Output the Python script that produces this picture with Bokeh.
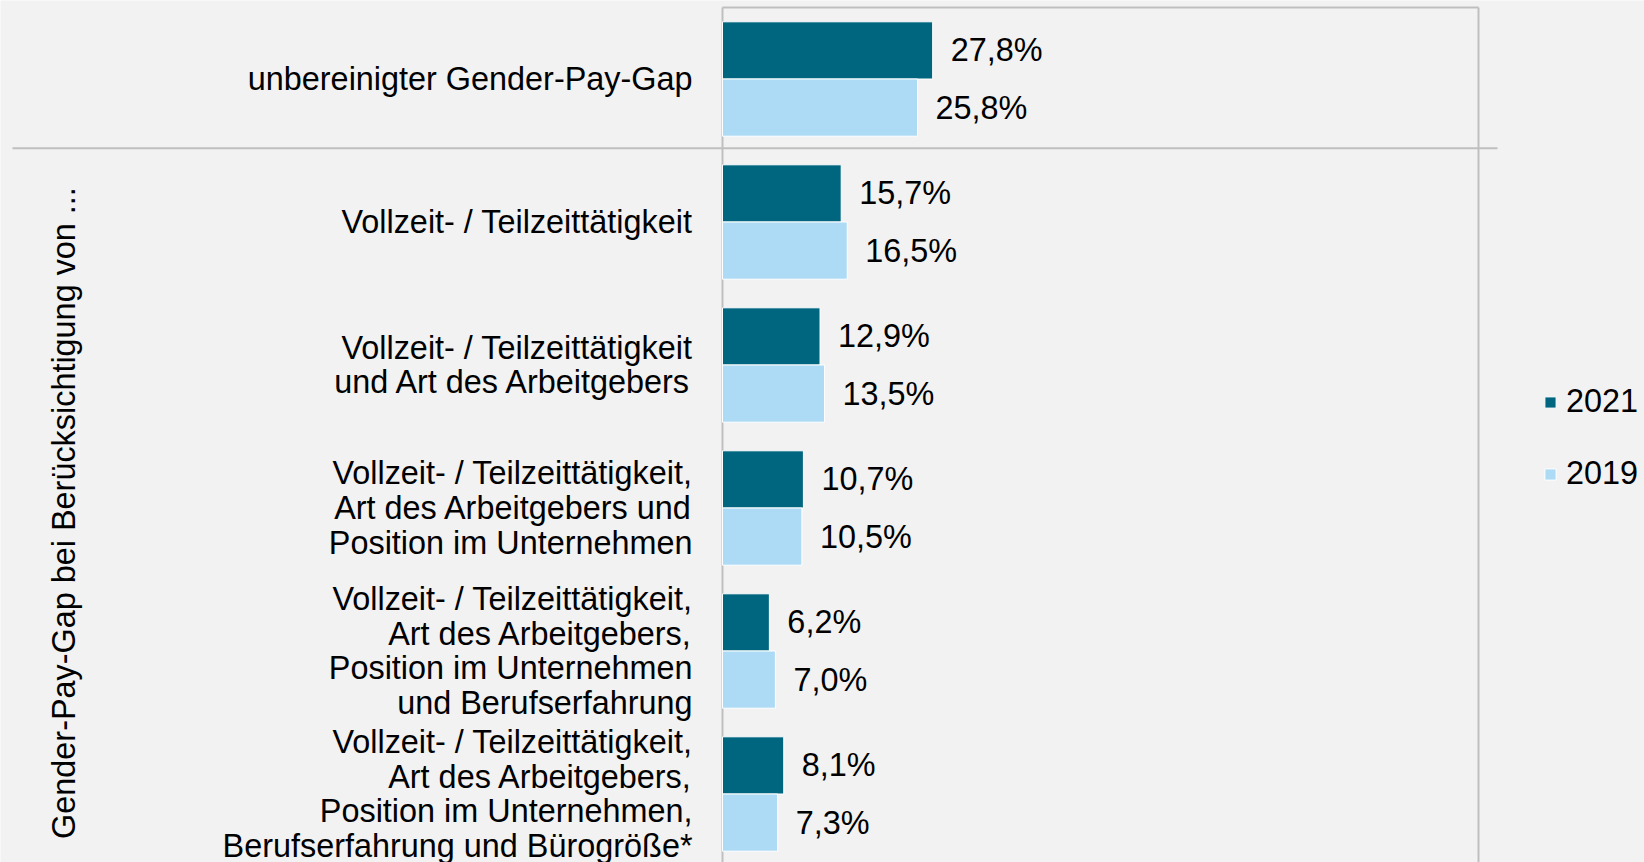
import math
from bokeh.plotting import figure
from bokeh.models import ColumnDataSource, Range1d, Legend, LegendItem
from bokeh.core.properties import value
from bokeh.embed import file_html
from bokeh.resources import INLINE

# ---- data ----
categories = [
    "unbereinigter Gender-Pay-Gap",
    "Vollzeit- / Teilzeittätigkeit",
    "Vollzeit- / Teilzeittätigkeit\nund Art des Arbeitgebers",
    "Vollzeit- / Teilzeittätigkeit,\nArt des Arbeitgebers und\nPosition im Unternehmen",
    "Vollzeit- / Teilzeittätigkeit,\nArt des Arbeitgebers,\nPosition im Unternehmen\nund Berufserfahrung",
    "Vollzeit- / Teilzeittätigkeit,\nArt des Arbeitgebers,\nPosition im Unternehmen,\nBerufserfahrung und Bürogröße*",
]
values_2021 = [27.8, 15.7, 12.9, 10.7, 6.2, 8.1]
values_2019 = [25.8, 16.5, 13.5, 10.5, 7.0, 7.3]
series_names = ["2021", "2019"]
group_title = "Gender-Pay-Gap bei Berücksichtigung von ..."

# ---- styles ----
FONT = "Liberation Sans"
FS = "32.4px"
C2021 = "#00667F"
C2019 = "#ADDBF5"
BG = "#F2F2F2"
FRAME = "#BFBFBF"
TXT = "#000000"

W, H = 1644, 862
X_AXIS_MIN, X_AXIS_MAX = 0, 100
PX_PER_UNIT = 7.56
ZERO_PX = 722           # canvas pixel of value 0
PX_PER_GROUP = 143
TOP_PX = 7              # canvas pixel of the plot-area top

xs = -ZERO_PX / PX_PER_UNIT
xe = xs + W / PX_PER_UNIT
y_top = -0.5 - TOP_PX / PX_PER_GROUP
y_bot = y_top + H / PX_PER_GROUP


def px_to_x(px):
    return (px - ZERO_PX) / PX_PER_UNIT


p = figure(width=W, height=H, output_backend="svg", toolbar_location=None,
           x_range=Range1d(xs, xe), y_range=Range1d(y_bot, y_top),
           min_border=0, background_fill_color=BG, border_fill_color=BG,
           outline_line_color=None)
p.xaxis.visible = False
p.yaxis.visible = False
p.xgrid.visible = False
p.ygrid.visible = False

n = len(categories)
idx = list(range(n))
bar_h = 0.4

# plot-area box (left, top, right) and separator between unadjusted / adjusted
p.multi_line(xs=[[X_AXIS_MIN, X_AXIS_MIN], [X_AXIS_MIN, X_AXIS_MAX], [X_AXIS_MAX, X_AXIS_MAX]],
             ys=[[y_bot + 1, -0.5], [-0.5, -0.5], [-0.5, y_bot + 1]],
             line_color=FRAME, line_width=2)
sep_y = 0.485
p.line(x=[px_to_x(12), px_to_x(1497)], y=[sep_y, sep_y],
       line_color=FRAME, line_width=2)

src21 = ColumnDataSource(dict(y=[i - bar_h / 2 for i in idx], v=values_2021,
                              lab=[f"{v:.1f}%".replace(".", ",") for v in values_2021]))
src19 = ColumnDataSource(dict(y=[i + bar_h / 2 for i in idx], v=values_2019,
                              lab=[f"{v:.1f}%".replace(".", ",") for v in values_2019]))

r21 = p.hbar(y="y", left=0, right="v", height=bar_h, source=src21,
             fill_color=C2021, line_color="white", line_width=1)
r19 = p.hbar(y="y", left=0, right="v", height=bar_h, source=src19,
             fill_color=C2019, line_color="white", line_width=1)

for src in (src21, src19):
    p.text(x="v", y="y", text="lab", source=src, x_offset=18,
           text_align="left", text_baseline="middle",
           text_font=value(FONT), text_font_size=FS, text_color=TXT)

# category labels
lab_src = ColumnDataSource(dict(x=[px_to_x(692)] * n, y=idx, t=categories))
p.text(x="x", y="y", text="t", source=lab_src, text_align="right",
       text_baseline="middle", text_font=value(FONT), text_font_size=FS,
       text_color=TXT, text_line_height=0.96)

# rotated group title
p.text(x=[px_to_x(63)], y=[3.035], text=[group_title], angle=math.pi / 2,
       text_align="center", text_baseline="middle", text_font=value(FONT),
       text_font_size=FS, text_color=TXT)

legend = Legend(items=[LegendItem(label=series_names[0], renderers=[r21]),
                       LegendItem(label=series_names[1], renderers=[r19])],
                location=(1543, 370), orientation="vertical",
                glyph_width=14, glyph_height=14, label_standoff=9,
                label_text_font=FONT, label_text_font_size=FS, label_text_color=TXT,
                spacing=35, padding=0, margin=0,
                border_line_color=None, background_fill_alpha=0)
p.add_layout(legend)

open("out.html", "w").write(file_html(p, INLINE))
